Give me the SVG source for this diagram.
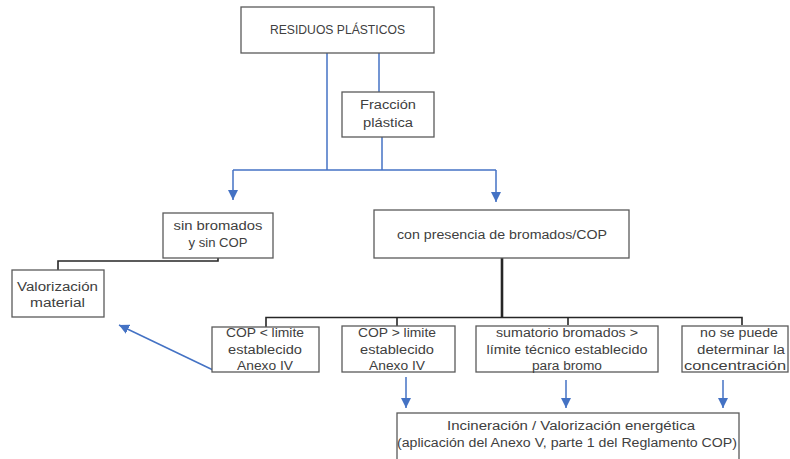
<svg xmlns="http://www.w3.org/2000/svg" width="790" height="459" viewBox="0 0 790 459">
<style>
.box{fill:#fff;stroke:#5a5a5a;stroke-width:1.3}
.t{font-family:"Liberation Sans",Arial,sans-serif;font-size:12.5px;fill:#404040;text-anchor:middle}
.blue{stroke:#4472c4;stroke-width:1.5;fill:none}
.blk{stroke:#262626;stroke-width:1.6;fill:none}
</style>
<defs>
<marker id="ah" markerUnits="userSpaceOnUse" markerWidth="10" markerHeight="10" refX="10" refY="5" orient="auto">
<path d="M0,0 L10,5 L0,10 z" fill="#4472c4"/>
</marker>
</defs>
<rect width="790" height="459" fill="#fff"/>
<g id="connectors">
<path class="blue" d="M327,53 V170"/>
<path class="blue" d="M379,53 V92"/>
<path class="blue" d="M382,137 V170"/>
<path class="blue" d="M233,170 H496"/>
<path class="blue" d="M233,170 V200" marker-end="url(#ah)"/>
<path class="blue" d="M496,170 V202" marker-end="url(#ah)"/>
<path class="blk" d="M218,258 V261 H58 V270"/>
<path class="blk" d="M502,258 V318" style="stroke-width:2.6"/>
<path class="blk" d="M266,327 V317.5 H742 V325"/>
<path class="blk" d="M397,317.5 V326"/>
<path class="blk" d="M568,317.5 V325"/>
<path class="blue" d="M213,370 L119,325" marker-end="url(#ah)"/>
<path class="blue" d="M406,377 V408" marker-end="url(#ah)"/>
<path class="blue" d="M566,380 V408" marker-end="url(#ah)"/>
<path class="blue" d="M723,380 V408" marker-end="url(#ah)"/>
</g>
<g id="residuos">
<rect class="box" x="241" y="7" width="193" height="46"/>
<text class="t" x="337.5" y="34" textLength="135" lengthAdjust="spacingAndGlyphs">RESIDUOS PLÁSTICOS</text>
</g>
<g id="fraccion">
<rect class="box" x="342" y="92" width="92" height="45"/>
<text class="t" x="388" y="109" textLength="56" lengthAdjust="spacingAndGlyphs">Fracción</text>
<text class="t" x="388" y="127" textLength="50" lengthAdjust="spacingAndGlyphs">plástica</text>
</g>
<g id="sin-bromados">
<rect class="box" x="163" y="213" width="110" height="45"/>
<text class="t" x="218" y="230" textLength="89" lengthAdjust="spacingAndGlyphs">sin bromados</text>
<text class="t" x="218" y="247" textLength="59" lengthAdjust="spacingAndGlyphs">y sin COP</text>
</g>
<g id="con-presencia">
<rect class="box" x="374" y="210" width="255" height="48"/>
<text class="t" x="502" y="239" textLength="210" lengthAdjust="spacingAndGlyphs">con presencia de bromados/COP</text>
</g>
<g id="valorizacion-material">
<rect class="box" x="12" y="270" width="92" height="47"/>
<text class="t" x="57.5" y="291" textLength="81" lengthAdjust="spacingAndGlyphs">Valorización</text>
<text class="t" x="57.5" y="307" textLength="55" lengthAdjust="spacingAndGlyphs">material</text>
</g>
<g id="cop-menor">
<rect class="box" x="212" y="327" width="107" height="45"/>
<text class="t" x="265" y="337" textLength="78" lengthAdjust="spacingAndGlyphs">COP &lt; limite</text>
<text class="t" x="265" y="354" textLength="74" lengthAdjust="spacingAndGlyphs">establecido</text>
<text class="t" x="265" y="370" textLength="56" lengthAdjust="spacingAndGlyphs">Anexo IV</text>
</g>
<g id="cop-mayor">
<rect class="box" x="342" y="326" width="113" height="46"/>
<text class="t" x="397" y="337" textLength="78" lengthAdjust="spacingAndGlyphs">COP &gt; limite</text>
<text class="t" x="397" y="354" textLength="74" lengthAdjust="spacingAndGlyphs">establecido</text>
<text class="t" x="397" y="370" textLength="56" lengthAdjust="spacingAndGlyphs">Anexo IV</text>
</g>
<g id="sumatorio">
<rect class="box" x="476" y="326" width="182" height="46"/>
<text class="t" x="567" y="337" textLength="142" lengthAdjust="spacingAndGlyphs">sumatorio bromados &gt;</text>
<text class="t" x="567" y="354" textLength="161" lengthAdjust="spacingAndGlyphs">límite técnico establecido</text>
<text class="t" x="567" y="370" textLength="70" lengthAdjust="spacingAndGlyphs">para bromo</text>
</g>
<g id="no-se-puede">
<rect class="box" x="682" y="326" width="106" height="46"/>
<text class="t" x="739" y="337" textLength="78" lengthAdjust="spacingAndGlyphs">no se puede</text>
<text class="t" x="741" y="354" textLength="88" lengthAdjust="spacingAndGlyphs">determinar la</text>
<text class="t" x="735" y="370" textLength="102" lengthAdjust="spacingAndGlyphs">concentración</text>
</g>
<g id="incineracion">
<rect class="box" x="397" y="413" width="342" height="52"/>
<text class="t" x="571" y="430" textLength="248" lengthAdjust="spacingAndGlyphs">Incineración / Valorización energética</text>
<text class="t" x="567" y="447" textLength="340" lengthAdjust="spacingAndGlyphs">(aplicación del Anexo V, parte 1 del Reglamento COP)</text>
</g>
</svg>
